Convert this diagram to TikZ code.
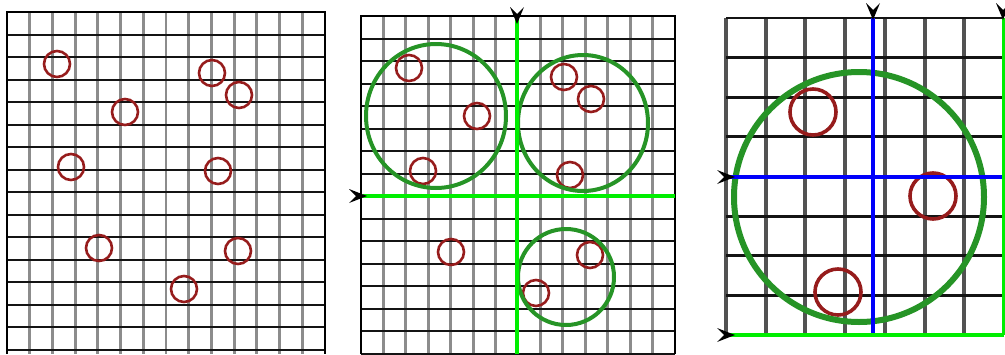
\documentclass[tikz,border=0pt]{standalone}
\definecolor{redc}{RGB}{150,28,28}
\definecolor{greenc}{RGB}{38,148,38}
\definecolor{limec}{RGB}{0,238,0}
\definecolor{bluec}{RGB}{0,0,250}
\begin{document}
\begin{tikzpicture}[x=1pt,y=-1pt,
  vgrid/.style={draw=black!45,line width=2.8pt},
  hgrid/.style={draw=black!92,line width=2pt},
  vgridbig/.style={draw=black!68,line width=4pt},
  hgridbig/.style={draw=black!92,line width=2.8pt},
  redcirc/.style={draw=redc,line width=2.6pt},
  redbig/.style={draw=redc,line width=3.6pt},
  greencirc/.style={draw=greenc,line width=4pt},
  greenbig/.style={draw=greenc,line width=6pt},
  limeline/.style={draw=limec,line width=3.6pt},
  blueline/.style={draw=bluec,line width=3.8pt},
  arrowdn/.pic={\fill[black] (0,0) -- (-7,-17) -- (0,-10) -- (7,-17) -- cycle;},
  arrowrt/.pic={\fill[black] (0,0) -- (-18,-7) -- (-11,0) -- (-18,7) -- cycle;}]
\useasboundingbox (0,0) rectangle (1005,354);
% ---------- panel 1 ----------
\foreach \i in {0,...,14} \draw[vgrid] ({7+\i*22.714},12) -- ({7+\i*22.714},354);
\foreach \j in {0,...,15} \draw[hgrid] (7,{12+\j*22.53}) -- (325,{12+\j*22.53});
\draw[black,line width=2pt] (7,354) -- (7,12) -- (325,12) -- (325,354);
\foreach \p in {(57,64),(212,73),(239,95),(125,112),(71,167),(218,171),(99,248),(238,251),(184,289)}
  \draw[redcirc] \p circle[radius=13];
% ---------- panel 2 ----------
\foreach \i in {0,...,14} \draw[vgrid] ({361+\i*22.43},16) -- ({361+\i*22.43},354);
\foreach \j in {0,...,15} \draw[hgrid] (361,{16+\j*22.5}) -- (675,{16+\j*22.5});
\draw[black,line width=2pt] (361,354) -- (361,16) -- (675,16) -- (675,354);
\foreach \p in {(409,68),(564,77),(591,99),(477,116),(423,171),(570,175),(451,252),(590,255),(536,293)}
  \draw[redcirc] \p circle[radius=13];
\draw[greencirc] (436,116) ellipse[x radius=70,y radius=72];
\draw[greencirc] (583,123) ellipse[x radius=65,y radius=68];
\draw[greencirc] (566,277) circle[radius=48];
\draw[limeline] (517,16) -- (517,354);
\draw[limeline] (363,196) -- (675,196);
\pic (t2) at (517,24) {arrowdn};
\pic (l2) at (367,196) {arrowrt};
% ---------- panel 3 ----------
\foreach \i in {0,...,6} \draw[vgridbig] ({726+\i*39.71},18) -- ({726+\i*39.71},335);
\foreach \j in {0,...,7} \draw[hgridbig] (726,{18+\j*39.625}) -- (1004,{18+\j*39.625});
\foreach \p in {(813,112),(933,196),(838,292)}
  \draw[redbig] \p circle[radius=23];
\draw[greenbig] (859,197) circle[radius=125];
\draw[blueline] (873,18) -- (873,335);
\draw[blueline] (730,177) -- (1004,177);
\draw[limeline] (1003.5,18) -- (1003.5,335);
\draw[limeline] (730,335) -- (1004,335);
\pic (t3) at (873,20) {arrowdn};
\pic (t4) at (1003,20) {arrowdn};
\pic (l3) at (735,177) {arrowrt};
\pic (l4) at (735,335) {arrowrt};
\end{tikzpicture}
\end{document}
